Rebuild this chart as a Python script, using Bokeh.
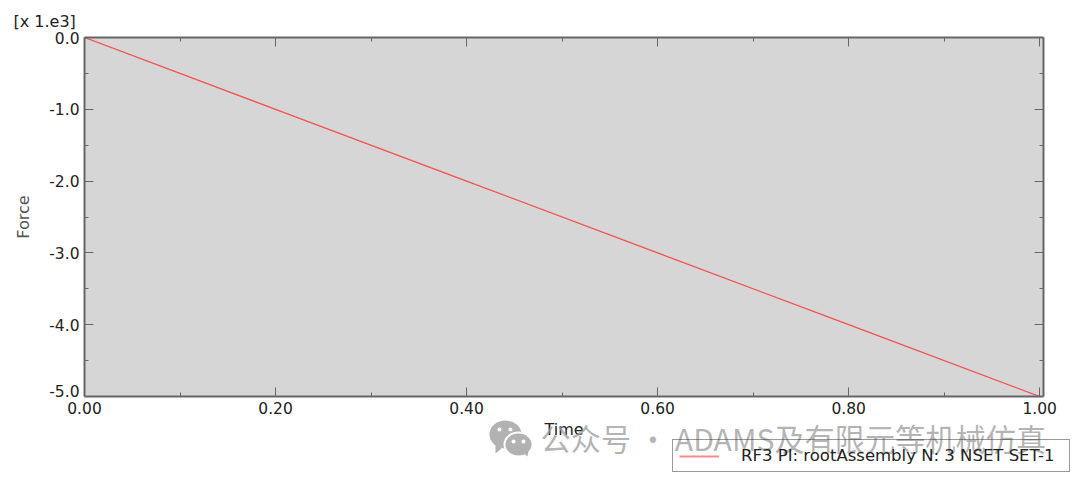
import numpy as np
from bokeh.embed import file_html
from bokeh.layouts import column
from bokeh.resources import INLINE
from bokeh.plotting import figure
from bokeh.core.properties import value
from bokeh.models import (Range1d, FixedTicker, LinearAxis, Legend, LegendItem,
                          NumeralTickFormatter)

# ---- data ----
time = [0.0, 0.2, 0.4, 0.6, 0.8, 1.0]
force = [0.0, -1.0, -2.0, -3.0, -4.0, -5.0]
x_major = [0.0, 0.2, 0.4, 0.6, 0.8, 1.0]
x_minor = [0.1, 0.3, 0.5, 0.7, 0.9]
y_major = [0.0, -1.0, -2.0, -3.0, -4.0, -5.0]
y_minor = [-0.5, -1.5, -2.5, -3.5, -4.5]
series_name = "RF3 PI: rootAssembly N: 3 NSET SET-1"
watermark = "公众号 · ADAMS及有限元等机械仿真"
scale_note = "[x 1.e3]"
last_y_label = "-5.0"

FONT = "DejaVu Sans"
AXC = "#666666"
W, H = 1080, 483

p = figure(width=W, height=H, output_backend="svg", toolbar_location=None,
           x_range=Range1d(0, 1.004), y_range=Range1d(-5.0, 0.0),
           min_border_left=84, min_border_right=37, min_border_top=37, min_border_bottom=87,
           frame_align=False,
           background_fill_color="#d6d6d6", border_fill_color="white", outline_line_color=None)
p.grid.visible = False


def style(ax, ticks, minor, labels=True, fmt="0.0"):
    ax.ticker = FixedTicker(ticks=ticks, minor_ticks=minor)
    ax.axis_line_color = AXC
    ax.axis_line_width = 2
    ax.major_tick_line_color = AXC
    ax.minor_tick_line_color = AXC
    ax.major_tick_in = 9
    ax.major_tick_out = 0
    ax.minor_tick_in = 4
    ax.minor_tick_out = 0
    if labels:
        ax.formatter = NumeralTickFormatter(format=fmt)
        ax.major_label_text_font = FONT
        ax.major_label_text_font_size = "15.5px"
        ax.major_label_text_color = "#222222"
    else:
        ax.major_label_text_font_size = "0px"
        ax.major_label_text_color = None


xa = p.xaxis[0]
style(xa, x_major, x_minor, fmt="0.00")
xa.major_label_standoff = 5
xa.axis_label = "Time"
xa.axis_label_text_font = FONT
xa.axis_label_text_font_style = "normal"
xa.axis_label_text_font_size = "16px"
xa.axis_label_text_color = "#222222"
xa.axis_label_standoff = 3

ya = p.yaxis[0]
style(ya, y_major, y_minor)
ya.major_label_standoff = 5
ya.major_label_overrides = {-5.0: ""}
ya.axis_label = "Force"
ya.axis_label_text_font = FONT
ya.axis_label_text_font_style = "normal"
ya.axis_label_text_font_size = "16px"
ya.axis_label_text_color = "#555555"
ya.axis_label_standoff = 13

top = LinearAxis()
style(top, x_major, x_minor, labels=False)
p.add_layout(top, "above")
right = LinearAxis()
style(right, y_major, y_minor, labels=False)
p.add_layout(right, "right")

line = p.line(time, force, line_color="#f4504f", line_width=1.3)

# Transparent layer the size of the page: page-level texts, legend and watermark.
q = figure(width=W, height=H, output_backend="svg", toolbar_location=None,
           x_range=Range1d(0, W), y_range=Range1d(H, 0),
           min_border=0, outline_line_color=None, x_axis_type=None, y_axis_type=None,
           frame_align=False,
           background_fill_color=None, border_fill_color=None,
           styles={"position": "absolute", "top": "0px", "left": "0px", "pointer-events": "none"})
q.grid.visible = False


def put(x, y, text, size, color, font=FONT, align="left", alpha=1.0):
    q.text([x], [y], text=[text], text_font=value(font), text_font_size=value(size),
           text_color=color, text_align=align, text_baseline="middle", text_alpha=alpha)


put(13, 21, scale_note, "16px", "#222222")
put(79, 390, last_y_label, "15.5px", "#222222", align="right")
put(540, 437, watermark, "30.2px", "#9c9c9c", font="Noto Sans CJK SC", alpha=0.75)


def bubble(cx, cy, rx, ry, color, tail=None):
    q.ellipse([cx], [cy], width=2 * rx, height=2 * ry, fill_color=color, line_color=None)
    if tail:
        q.patch(tail[0], tail[1], fill_color=color, line_color=None)


bubble(505, 434, 16, 14, "#b2b2b2", tail=([495, 501, 495], [443, 448, 453]))
bubble(518, 444, 15, 13, "white")
bubble(518, 444, 13, 11, "#b2b2b2", tail=([522, 528, 527], [452, 450, 456]))
for ex, ey in [(499, 429), (510, 429), (513, 441), (523, 441)]:
    bubble(ex, ey, 2, 2, "white")

# The legend key stands for the plotted line; its own renderer lies outside the visible range.
key = q.line([-20, -10], [-20, -20], line_color="#f98a8a", line_width=2)
legend = Legend(items=[LegendItem(label=series_name, renderers=[key])],
                location=(672, 11), orientation="vertical",
                padding=6, margin=0, spacing=0,
                glyph_width=40, glyph_height=16, label_height=16, label_width=322,
                label_standoff=22, label_text_font=FONT, label_text_font_size="16.5px",
                label_text_color="#222222", border_line_color="#333333", border_line_width=1,
                background_fill_alpha=0.0)
q.add_layout(legend, "center")

open("out.html", "w").write(file_html(column(p, q), INLINE))
